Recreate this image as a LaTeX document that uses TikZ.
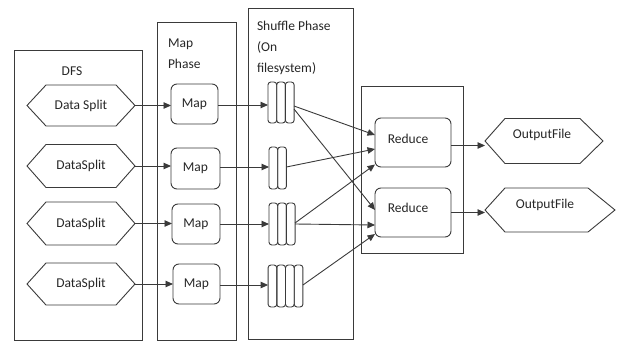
\documentclass[tikz,border=0pt]{standalone}
\usepackage{fontspec}
\setmainfont{Carlito}
\usetikzlibrary{arrows.meta,calc}
\definecolor{ln}{HTML}{3A3A3A}
\begin{document}
\begin{tikzpicture}[x=1pt,y=-1pt,
  every node/.style={inner sep=0pt,outer sep=0pt,font=\fontsize{13.5}{21}\selectfont,text=black!85},
  frame/.style={draw=ln,line width=0.9pt,rectangle},
  rbox/.style={draw=ln,line width=0.9pt,rectangle,rounded corners=6pt},
  hexbox/.style={rectangle},
  qbox/.style={rectangle},
  hexline/.style={draw=ln,line width=0.9pt,line join=miter},
  cell/.style={draw=ln,line width=0.9pt,rounded corners=2.8pt},
  arr/.style={draw=ln,line width=0.9pt,-{Triangle[length=7.5pt,width=6.5pt]}},
  ttl/.style={anchor=north west,align=left}]
\useasboundingbox (0,0) rectangle (620,342);
% phase frames
\node[frame,minimum width=128pt,minimum height=290pt] (dfs) at (78,195) {};
\node[frame,minimum width=79pt,minimum height=318pt] (mapph) at (196.5,181) {};
\node[frame,minimum width=105pt,minimum height=331pt] (shph) at (300.5,173.5) {};
\node[frame,minimum width=102pt,minimum height=167pt] (redph) at (412,169.5) {};
% titles
\node (tdfs) at (72,71) {DFS};
\node[ttl] (tmap) at (168,38.5) {Map\\Phase};
\node[ttl] (tsh) at (257,21.5) {Shuffle Phase\\(On\\filesystem)};
% data splits
\node[hexbox,minimum width=108pt,minimum height=41pt] (d1) at (81,105.5) {Data Split};
\node[hexbox,minimum width=108pt,minimum height=43pt] (d2) at (81,166) {DataSplit};
\node[hexbox,minimum width=108pt,minimum height=43pt] (d3) at (81,223.5) {DataSplit};
\node[hexbox,minimum width=108pt,minimum height=42pt] (d4) at (81,284) {DataSplit};
\foreach \n in {d1,d2,d3,d4}{
  \draw[hexline] (\n.west) -- ([xshift=19pt]\n.north west) -- ([xshift=-19pt]\n.north east)
    -- (\n.east) -- ([xshift=-19pt]\n.south east) -- ([xshift=19pt]\n.south west) -- cycle;
}
% maps
\node[rbox,minimum width=47pt,minimum height=40pt] (m1) at (194.5,104) {Map};
\node[rbox,minimum width=49pt,minimum height=41pt] (m2) at (195.5,168.5) {Map};
\node[rbox,minimum width=48pt,minimum height=40pt] (m3) at (196,224) {Map};
\node[rbox,minimum width=47pt,minimum height=40pt] (m4) at (196.5,284) {Map};
% queues
\node[qbox,minimum width=26pt,minimum height=41pt] (q1) at (281,102.5) {};
\node[qbox,minimum width=17.4pt,minimum height=42pt] (q2) at (277.7,168) {};
\node[qbox,minimum width=26pt,minimum height=42pt] (q3) at (282,224) {};
\node[qbox,minimum width=34.8pt,minimum height=42pt] (q4) at (285.5,286) {};
\foreach \q/\k in {q1/3,q2/2,q3/3,q4/4}{
  \foreach \i in {1,...,\k}{
    \draw[cell] ([xshift={(\i-1)*8.7pt}]\q.north west) rectangle ([xshift={\i*8.7pt}]\q.south west);
  }
}
% reducers
\node[rbox,minimum width=76pt,minimum height=49pt,label={[xshift=-5pt,yshift=4pt]center:Reduce}] (r1) at (413,142.5) {};
\node[rbox,minimum width=76pt,minimum height=49pt,label={[xshift=-5pt,yshift=5pt]center:Reduce}] (r2) at (413,212.5) {};
% outputs
\node[hexbox,minimum width=118pt,minimum height=45pt,label={[xshift=-2pt,yshift=6pt]center:OutputFile}] (o1) at (544,141) {};
\node[hexbox,minimum width=130pt,minimum height=44pt,label={[xshift=-5pt,yshift=5pt]center:OutputFile}] (o2) at (550,210) {};
\draw[hexline] (o1.west) -- ([xshift=20pt]o1.north west) -- ([xshift=-23pt]o1.north east)
  -- (o1.east) -- ([xshift=-23pt]o1.south east) -- ([xshift=20pt]o1.south west) -- cycle;
\draw[hexline] (o2.west) -- ([xshift=20pt]o2.north west) -- ([xshift=-27pt]o2.north east)
  -- (o2.east) -- ([xshift=-27pt]o2.south east) -- ([xshift=20pt]o2.south west) -- cycle;
% arrows: splits to maps
\foreach \i in {1,2,3,4}{
  \draw[arr] (d\i.east) -- (m\i.west |- d\i.east);
}
% maps to queues
\coordinate (s1) at ([yshift=-1pt]m1.east);
\coordinate (s2) at ([yshift=1.5pt]m2.east);
\coordinate (s3) at (m3.east);
\coordinate (s4) at ([yshift=-1pt]m4.east);
\foreach \i in {1,2,3,4}{
  \draw[arr] (s\i) -- (q\i.west |- s\i);
}
% queues to reducers
\draw[arr] ([yshift=-3.5pt]q1.east) -- ([yshift=7.5pt]r1.west);
\draw[arr] ([yshift=-6.5pt]q1.east) -- ([yshift=2.5pt]r2.west);
\draw[arr] ([yshift=1pt]q2.east) -- ([yshift=-6.5pt]r1.west);
\draw[arr] ([yshift=1pt]q3.east) -- ([yshift=-22pt]r1.west);
\draw[arr] (q3.east) -- ([yshift=-12.5pt]r2.west);
\draw[arr] ([yshift=1pt]q4.east) -- ([yshift=-21.5pt]r2.west);
% reducers to outputs
\coordinate (t1) at ([yshift=-3pt]r1.east);
\draw[arr] (t1) -- (o1.west |- t1);
\draw[arr] (r2.east) -- (o2.west |- r2.east);
\end{tikzpicture}
\end{document}
